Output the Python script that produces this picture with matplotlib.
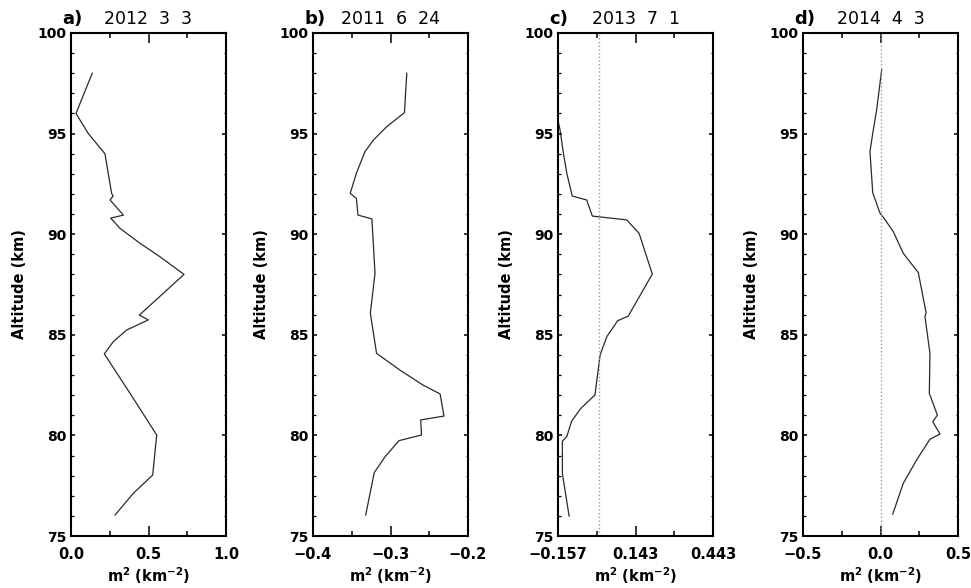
import matplotlib as mpl
mpl.use('Agg')
import matplotlib.pyplot as plt

mpl.rcParams.update({'font.family': 'DejaVu Sans', 'mathtext.fontset': 'dejavusans'})

# panel letters / dates
letters = ['a)', 'b)', 'c)', 'd)']
dates = ['2012  3  3', '2011  6  24', '2013  7  1', '2014  4  3']

# profiles (altitude in km, m^2 in km^-2)
alt_a = [98.0, 96.0, 95.0, 94.0, 92.03, 91.9, 91.7, 90.95, 90.8, 90.29, 89.55, 88.88,
         88.0, 85.98, 85.74, 85.24, 84.66, 84.05, 82.09, 80.02, 78.03, 77.12, 76.04]
m2_a = [0.137, 0.032, 0.112, 0.219, 0.262, 0.272, 0.252, 0.338, 0.256, 0.316, 0.445, 0.574,
        0.729, 0.441, 0.499, 0.359, 0.273, 0.215, 0.381, 0.553, 0.527, 0.402, 0.284]

alt_b = [98.0, 96.04, 95.34, 94.68, 94.1, 93.03, 92.03, 91.78, 90.95, 90.76, 88.06, 86.07,
         84.08, 83.25, 82.5, 82.06, 80.96, 80.77, 80.02, 79.74, 78.94, 78.15, 76.04]
m2_b = [-0.279, -0.282, -0.305, -0.322, -0.333, -0.344, -0.352, -0.344, -0.342, -0.324, -0.320,
        -0.326, -0.318, -0.288, -0.258, -0.236, -0.231, -0.261, -0.260, -0.289, -0.307, -0.321, -0.332]

alt_c = [96.0, 95.18, 94.02, 93.03, 91.9, 91.7, 90.9, 90.71, 90.04, 88.02, 85.93, 85.7,
         84.91, 84.0, 82.01, 81.35, 80.72, 79.94, 79.72, 78.1, 75.99]
m2_c = [-0.163, -0.149, -0.136, -0.123, -0.102, -0.046, -0.024, 0.109, 0.157, 0.208, 0.115, 0.074,
        0.032, 0.006, -0.014, -0.068, -0.104, -0.123, -0.140, -0.140, -0.114]

alt_d = [98.16, 96.17, 95.01, 94.1, 92.06, 91.04, 90.79, 90.12, 89.05, 88.09, 86.1, 85.9,
         84.08, 82.09, 81.01, 80.68, 80.07, 79.81, 78.78, 77.62, 76.09]
m2_d = [0.0075, -0.025, -0.050, -0.068, -0.050, -0.003, 0.023, 0.083, 0.147, 0.244, 0.294, 0.287,
        0.319, 0.315, 0.367, 0.337, 0.384, 0.319, 0.233, 0.147, 0.079]

# x axis setup per panel
xlims = [(0.0, 1.0), (-0.4, -0.2), (-0.157, 0.443), (-0.5, 0.5)]
xticks = [[0.0, 0.5, 1.0], [-0.4, -0.3, -0.2], [-0.157, 0.143, 0.443], [-0.5, 0.0, 0.5]]
xticklabels = [['0.0', '0.5', '1.0'], ['\u22120.4', '\u22120.3', '\u22120.2'],
               ['\u22120.157', '0.143', '0.443'], ['\u22120.5', '0.0', '0.5']]
zero_line = [False, False, True, True]

fig = plt.figure(figsize=(9.71, 5.88), dpi=100)
lefts = [71, 313, 558, 803]
W, H = 971., 588.

profiles = [(m2_a, alt_a), (m2_b, alt_b), (m2_c, alt_c), (m2_d, alt_d)]

for k in range(4):
    ax = fig.add_axes([lefts[k] / W, 52 / H, 155 / W, 503 / H])
    x, y = profiles[k]
    ax.plot(x, y, color='#2a2a2a', lw=0.9)
    if zero_line[k]:
        ax.axvline(0, color='#9a9a9a', ls=':', lw=1.0)

    lo, hi = xlims[k]
    ax.set_xlim(lo, hi)
    ax.set_ylim(75, 100)
    ax.set_xticks(xticks[k])
    ax.set_xticklabels(xticklabels[k])
    step = (hi - lo) / 4
    ax.set_xticks([lo + step, lo + 3 * step], minor=True)
    ax.set_yticks([75, 80, 85, 90, 95, 100])
    ax.set_yticks(range(76, 100), minor=True)

    ax.tick_params(axis='x', which='major', direction='in', top=True, length=7.2, width=1.1,
                   pad=8, labelsize=10.5)
    ax.tick_params(axis='x', which='minor', direction='in', top=True, length=3.6, width=1.1)
    ax.tick_params(axis='y', which='major', direction='in', right=True, length=3.0, width=1.1,
                   pad=3, labelsize=10)
    ax.tick_params(axis='y', which='minor', direction='in', right=True, length=1.8, width=0.9)
    for lab in ax.get_xticklabels() + ax.get_yticklabels():
        lab.set_fontweight('bold')
    for s in ax.spines.values():
        s.set_linewidth(1.5)

    ax.set_title(dates[k], fontsize=12.5, pad=6.5)
    ax.text(-0.058, 1.018, letters[k], transform=ax.transAxes, ha='left', va='baseline',
            fontsize=13, fontweight='bold')
    ax.text(-0.335, 0.5, 'Altitude (km)', transform=ax.transAxes, rotation=90,
            ha='center', va='center', fontsize=10.5, fontweight='bold')
    ax.text(0.5, -0.0795, r'$\mathbf{m^2\ (km^{-2})}$', transform=ax.transAxes,
            ha='center', va='center', fontsize=10.5)

fig.savefig('out.png', dpi=100)
